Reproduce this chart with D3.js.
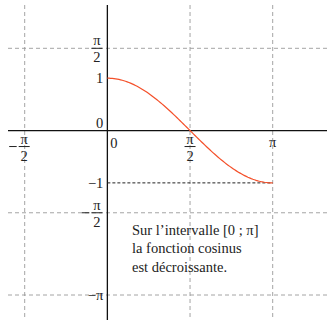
<!DOCTYPE html>
<html>
<head>
<meta charset="utf-8">
<script src="https://cdn.jsdelivr.net/npm/d3@7"></script>
<style>
  html, body { margin: 0; padding: 0; background: #fff; }
  svg { display: block; }
  text { font-family: "Liberation Serif", "DejaVu Serif", serif; fill: #222; }
</style>
</head>
<body>
<svg id="chart" width="327" height="320"></svg>
<script>
const PI = Math.PI;

// grid positions (multiples of pi/2)
const gridX = [-PI / 2, PI / 2, PI];
const gridY = [PI / 2, -PI / 2, -PI];

// plotted function: cosine on [0 ; pi]
const curveStart = 0;
const curveEnd = PI;
const curveSamples = d3.range(0, 101).map(i => curveStart + (curveEnd - curveStart) * i / 100);

// axis labels
const xFracLabels = [ { v: -PI / 2, neg: true }, { v: PI / 2, neg: false } ];
const xPlainLabels = [ { v: PI, t: "π" } ];
const yFracLabels = [ { v: PI / 2, neg: false }, { v: -PI / 2, neg: true } ];
const yPlainLabels = [ { v: 1, t: "1" }, { v: -1, t: "−1" }, { v: -PI, t: "−π" } ];
const caption = ["Sur l’intervalle [0 ; π]", "la fonction cosinus", "est décroissante."];

const svg = d3.select("#chart");
const x = d3.scaleLinear().domain([-PI / 2, PI]).range([24.7, 272.7]);
const y = d3.scaleLinear().domain([-PI, PI / 2]).range([295, 48.3]);
const x0 = x(0), y0 = y(0);

// dashed grid
const grid = svg.append("g").attr("stroke", "#9a9a9a").attr("stroke-width", 0.9)
  .attr("stroke-dasharray", "4,3");
grid.selectAll("line.v").data(gridX).join("line")
  .attr("x1", d => x(d)).attr("x2", d => x(d)).attr("y1", 5).attr("y2", 320);
grid.selectAll("line.h").data(gridY).join("line")
  .attr("x1", 8).attr("x2", 327).attr("y1", d => y(d)).attr("y2", d => y(d));

// axes
svg.append("line").attr("x1", 8).attr("x2", 327).attr("y1", y0).attr("y2", y0)
  .attr("stroke", "#111").attr("stroke-width", 1.3);
svg.append("line").attr("x1", x0).attr("x2", x0).attr("y1", 5).attr("y2", 320)
  .attr("stroke", "#111").attr("stroke-width", 1.3);

// dashed guide at y = -1
svg.append("line").attr("x1", x0).attr("x2", x(PI)).attr("y1", y(-1)).attr("y2", y(-1))
  .attr("stroke", "#222").attr("stroke-width", 1).attr("stroke-dasharray", "3,2");

// cosine curve
const line = d3.line().x(d => x(d)).y(d => y(Math.cos(d)));
svg.append("path").datum(curveSamples).attr("d", line)
  .attr("fill", "none").attr("stroke", "#f4502a").attr("stroke-width", 1.2);

const fs = 14.5;

// fraction label pi/2 centred at (cx, cy) = position of the fraction bar
function fraction(cx, cy, neg) {
  const g = svg.append("g");
  g.append("text").attr("x", cx).attr("y", cy - 3).attr("text-anchor", "middle")
    .attr("font-size", fs).text("π");
  g.append("line").attr("x1", cx - 5.5).attr("x2", cx + 5.5).attr("y1", cy).attr("y2", cy)
    .attr("stroke", "#222").attr("stroke-width", 1);
  g.append("text").attr("x", cx).attr("y", cy + 14).attr("text-anchor", "middle")
    .attr("font-size", fs).text("2");
  if (neg) {
    g.append("line").attr("x1", cx - 15).attr("x2", cx - 7.5).attr("y1", cy).attr("y2", cy)
      .attr("stroke", "#222").attr("stroke-width", 1);
  }
}

// x labels
xFracLabels.forEach(d => fraction(x(d.v) - (d.neg ? 0.5 : 0), y0 + 16, d.neg));
svg.selectAll("text.xp").data(xPlainLabels).join("text")
  .attr("x", d => x(d.v)).attr("y", y0 + 16).attr("text-anchor", "middle")
  .attr("font-size", fs).text(d => d.t);
svg.append("text").attr("x", x0 + 3).attr("y", y0 + 17).attr("font-size", fs).text("0");

// y labels
yFracLabels.forEach(d => fraction(x0 - 10.5, y(d.v), d.neg));
svg.selectAll("text.yp").data(yPlainLabels).join("text")
  .attr("x", x0 - 4).attr("y", d => y(d.v) + 5).attr("text-anchor", "end")
  .attr("font-size", fs).text(d => d.t);
svg.append("text").attr("x", x0 - 4).attr("y", y0 - 3).attr("text-anchor", "end")
  .attr("font-size", fs).text("0");

// caption
svg.append("g").selectAll("text").data(caption).join("text")
  .attr("x", 132).attr("y", (d, i) => 235 + i * 18.3)
  .attr("font-size", fs).text(d => d);
</script>
</body>
</html>
